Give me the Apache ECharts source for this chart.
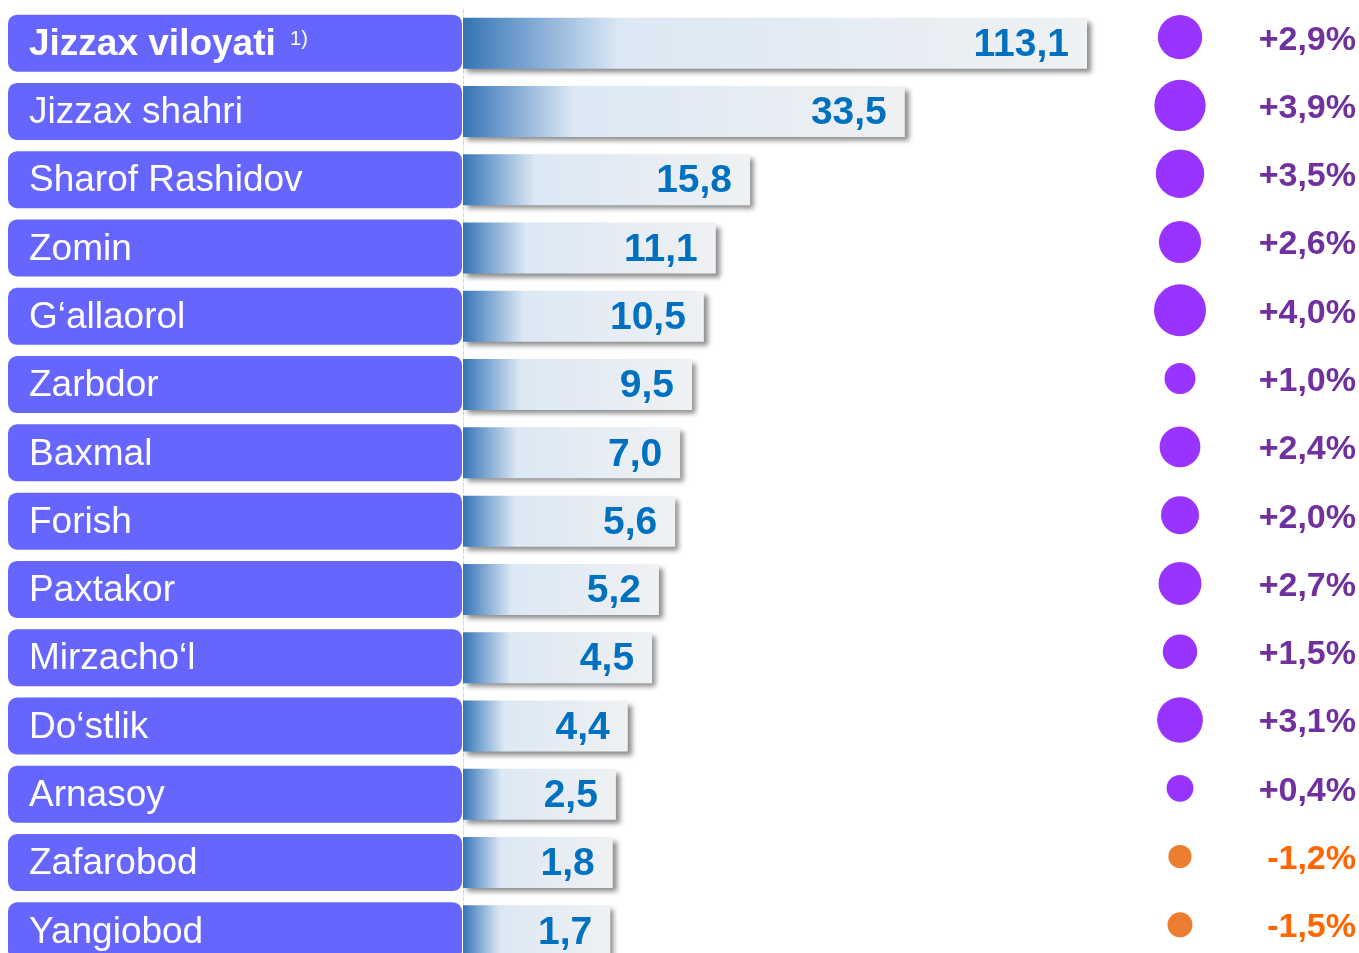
<!DOCTYPE html>
<html>
<head>
<meta charset="utf-8">
<script src="https://cdn.jsdelivr.net/npm/echarts@6/dist/echarts.min.js"></script>
<style>
    html, body { margin: 0; padding: 0; background: #fff; }
    #chart { width: 1359px; height: 953px; }
</style>
</head>
<body>
<div id="chart"></div>
<script>
// hududlar
const regions = ['Jizzax viloyati', 'Jizzax shahri', 'Sharof Rashidov', 'Zomin', 'G‘allaorol', 'Zarbdor', 'Baxmal',
    'Forish', 'Paxtakor', 'Mirzacho‘l', 'Do‘stlik', 'Arnasoy', 'Zafarobod', 'Yangiobod'];
// qiymatlar (bar ustidagi yozuv)
const values = [113.1, 33.5, 15.8, 11.1, 10.5, 9.5, 7.0, 5.6, 5.2, 4.5, 4.4, 2.5, 1.8, 1.7];
// bar uzunligi rasmda qiymatga proporsional emas - rasmdan o'qilgan nisbiy uzunlik (eng uzuni = 100)
const barLength = [100, 70.8, 46.0, 40.5, 38.6, 36.7, 34.8, 34.0, 31.4, 30.3, 26.4, 24.5, 24.0, 23.6];
// o'sish sur'ati, %
const growth = [2.9, 3.9, 3.5, 2.6, 4.0, 1.0, 2.4, 2.0, 2.7, 1.5, 3.1, 0.4, -1.2, -1.5];

const fmt = v => v.toFixed(1).replace('.', ',');

const myChart = echarts.init(document.getElementById('chart'));

const option = {
    animation: false,
    grid: [
        // oxirgi qator pastdan kesilgan, shuning uchun balandlik konteynerdan katta
        { left: 463, top: 9, width: 624, height: 956, outerBoundsMode: 'none' },
        { left: 1100, top: 9, width: 160, height: 956, outerBoundsMode: 'none' }
    ],
    xAxis: [
        { type: 'value', gridIndex: 0, min: 0, max: 100, show: false },
        { type: 'category', gridIndex: 1, data: ['o'], show: false }
    ],
    yAxis: [
        {
            type: 'category',
            gridIndex: 0,
            inverse: true,
            data: regions,
            axisTick: { show: false },
            axisLine: {
                show: true,
                lineStyle: { color: '#d8d8d8', type: 'dashed', width: 1 }
            },
            axisLabel: {
                margin: 1,
                align: 'right',
                width: 433,
                height: 57,
                padding: [0, 0, 0, 21],
                backgroundColor: '#6666FF',
                borderColor: '#ffffff',
                borderWidth: 1.5,
                borderRadius: 9,
                formatter: function (v, i) {
                    if (i === 0) return '{b|' + v + ' }{sup|1)}';
                    return '{n|' + v + '}';
                },
                rich: {
                    n: { align: 'left', color: '#fff', fontSize: 37, fontFamily: 'Liberation Sans, Arial', lineHeight: 57, padding: [3, 0, 0, 0] },
                    b: { align: 'left', color: '#fff', fontSize: 37, fontWeight: 'bold', fontFamily: 'Liberation Sans, Arial', lineHeight: 57, padding: [3, 0, 0, 0] },
                    sup: { align: 'left', color: '#fff', fontSize: 20, fontFamily: 'Liberation Sans, Arial', lineHeight: 57, padding: [0, 0, 8, 4] }
                }
            }
        },
        { type: 'category', gridIndex: 1, inverse: true, data: regions, show: false }
    ],
    series: [
        {
            type: 'bar',
            xAxisIndex: 0,
            yAxisIndex: 0,
            barWidth: 51,
            data: barLength.map((len, i) => ({ value: len, real: values[i] })),
            itemStyle: {
                color: new echarts.graphic.LinearGradient(0, 0, 1, 0, [
                    { offset: 0, color: '#3574B5' },
                    { offset: 0.12, color: '#86ADD6' },
                    { offset: 0.25, color: '#DCE8F4' },
                    { offset: 1, color: '#EFF1F3' }
                ]),
                shadowColor: 'rgba(0, 0, 0, 0.45)',
                shadowBlur: 5,
                shadowOffsetX: 4,
                shadowOffsetY: 4
            },
            label: {
                show: true,
                position: 'insideRight',
                distance: 18,
                offset: [0, 2],
                color: '#0070C0',
                fontSize: 39,
                fontWeight: 'bold',
                fontFamily: 'Liberation Sans, Arial',
                formatter: p => fmt(p.data.real)
            }
        },
        {
            type: 'scatter',
            xAxisIndex: 1,
            yAxisIndex: 1,
            data: growth.map((g, i) => ({
                value: [0, i],
                growth: g,
                itemStyle: { color: g < 0 ? '#ED7D31' : '#9933FF', opacity: 1 },
                label: { color: g < 0 ? '#FF6600' : '#7030A0' }
            })),
            symbolSize: function (val, p) {
                const g = p.data.growth;
                return g < 0 ? 16 + 6 * Math.abs(g) : 24 + 7 * g;
            },
            symbolOffset: [0, -6],
            itemStyle: { opacity: 1 },
            label: {
                show: true,
                position: 'inside',
                align: 'right',
                offset: [176, 3],
                fontSize: 34,
                fontWeight: 'bold',
                fontFamily: 'Liberation Sans, Arial',
                formatter: p => (p.data.growth > 0 ? '+' : '') + fmt(p.data.growth) + '%'
            }
        }
    ]
};
myChart.setOption(option);
window.addEventListener('resize', () => {
    myChart.resize();
});
</script>
</body>
</html>
